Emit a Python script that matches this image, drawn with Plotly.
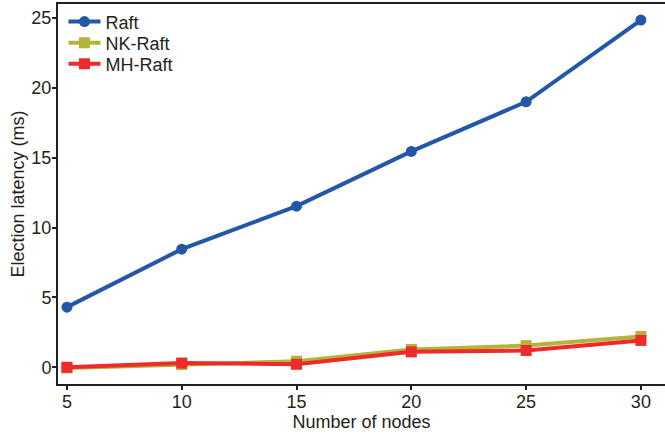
import plotly.graph_objects as go

# Cluster sizes on the x axis
nodes = [5, 10, 15, 20, 25, 30]

# Election latency (ms) for each protocol
raft = [4.3, 8.45, 11.53, 15.45, 19.0, 24.85]
nk_raft = [-0.05, 0.2, 0.43, 1.27, 1.55, 2.2]
mh_raft = [0.0, 0.3, 0.21, 1.1, 1.2, 1.92]

x_ticks = [5, 10, 15, 20, 25, 30]
y_ticks = [0, 5, 10, 15, 20, 25]

FONT = "Liberation Sans, Arial, sans-serif"
AXIS_COLOR = "#231F20"

fig = go.Figure()

# One legend per series so the entries can be stacked tightly
series = [
    ("Raft", raft, "#2357A8", "circle", "legend", 0.953),
    ("NK-Raft", nk_raft, "#B4B43A", "square", "legend2", 0.897),
    ("MH-Raft", mh_raft, "#EE2A2A", "square", "legend3", 0.842),
]
legend_cfg = {}
for name, vals, color, symbol, leg, ypos in series:
    fig.add_trace(go.Scatter(
        x=nodes, y=vals, name=name, mode="lines+markers",
        line=dict(color=color, width=4),
        marker=dict(color=color, symbol=symbol, size=11),
        legend=leg,
    ))
    legend_cfg[leg] = dict(
        x=0.009, y=ypos, xanchor="left", yanchor="middle",
        bgcolor="rgba(0,0,0,0)", font=dict(size=18),
        itemwidth=32, borderwidth=0,
    )

fig.update_layout(
    width=665, height=438,
    margin=dict(l=58, r=0, t=4, b=54),
    paper_bgcolor="white", plot_bgcolor="white",
    font=dict(family=FONT, size=18, color="#231F20"),
    showlegend=True,
    **legend_cfg,
    xaxis=dict(
        range=[4.61, 31.05], tickvals=x_ticks,
        showgrid=False, zeroline=False,
        showline=True, linewidth=2, linecolor=AXIS_COLOR, mirror=True,
        ticks="outside", ticklen=4, tickwidth=2, tickcolor=AXIS_COLOR,
        ticklabelstandoff=-4,
        title=dict(text="Number of nodes", standoff=2, font=dict(size=18)),
        tickfont=dict(size=18),
    ),
    yaxis=dict(
        range=[-1.2, 26.0], tickvals=y_ticks,
        showgrid=False, zeroline=False,
        showline=True, linewidth=2, linecolor=AXIS_COLOR,
        ticks="outside", ticklen=4, tickwidth=2, tickcolor=AXIS_COLOR,
        ticklabelstandoff=-3,
        title=dict(text="Election latency (ms)", standoff=2, font=dict(size=18)),
        tickfont=dict(size=18),
    ),
)

fig.write_html("out.html")
